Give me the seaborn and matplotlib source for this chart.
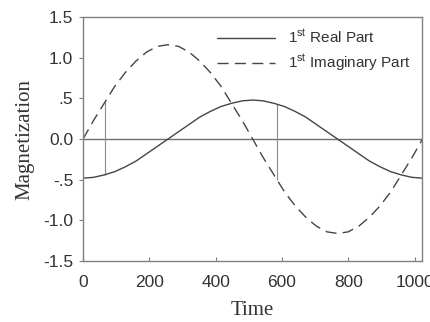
import numpy as np
import pandas as pd
import matplotlib
matplotlib.use("Agg")
import matplotlib.pyplot as plt
import seaborn as sns

time = [0, 32, 64, 96, 128, 160, 192, 224, 256, 288, 320, 352, 384, 416, 448, 480,
        512, 544, 576, 608, 640, 672, 704, 736, 768, 800, 832, 864, 896, 928, 960, 992, 1024]
real_part = [-0.48, -0.47, -0.44, -0.40, -0.34, -0.27, -0.18, -0.09, 0.00, 0.09, 0.18, 0.27,
             0.34, 0.40, 0.44, 0.47, 0.48, 0.47, 0.44, 0.40, 0.34, 0.27, 0.18, 0.09, 0.00,
             -0.09, -0.18, -0.27, -0.34, -0.40, -0.44, -0.47, -0.48]
imag_part = [0.00, 0.23, 0.44, 0.65, 0.82, 0.96, 1.07, 1.14, 1.16, 1.14, 1.07, 0.96, 0.82,
             0.65, 0.44, 0.23, 0.00, -0.23, -0.44, -0.65, -0.82, -0.96, -1.07, -1.14, -1.16,
             -1.14, -1.07, -0.96, -0.82, -0.65, -0.44, -0.23, 0.00]
marker_times = [66, 586]
marker_low = [-0.44, -0.50]
marker_high = [0.46, 0.43]

xticks = [0, 200, 400, 600, 800, 1000]
yticks = [-1.5, -1.0, -0.5, 0.0, 0.5, 1.0, 1.5]
ytick_labels = ["-1.5", "-1.0", "-.5", "0.0", ".5", "1.0", "1.5"]

sns.set_style("white")
plt.rcParams["font.family"] = ["Liberation Sans", "DejaVu Sans"]

fig = plt.figure(figsize=(4.3, 3.22), dpi=100)
ax = fig.add_axes([0.193, 0.189, 0.788, 0.758])

line_color = "#454545"
df = pd.DataFrame({"Time": time, "Real": real_part, "Imag": imag_part})

ax.axhline(0, color="#6e6e6e", lw=1.0, zorder=1)
ax.vlines(marker_times, marker_low, marker_high, color="#8a8a8a", lw=0.8, zorder=1)

sns.lineplot(data=df, x="Time", y="Real", ax=ax, color=line_color, lw=1.0,
             label="1$^{\\mathregular{st}}$ Real Part")
sns.lineplot(data=df, x="Time", y="Imag", ax=ax, color=line_color, lw=1.0,
             label="1$^{\\mathregular{st}}$ Imaginary Part")
ax.lines[-1].set_dashes((8, 4.5))

ax.set_xlim(0, 1022)
ax.set_ylim(-1.5, 1.5)
ax.set_xticks(xticks)
ax.set_xticklabels([str(t) for t in xticks])
ax.set_yticks(yticks)
ax.set_yticklabels(ytick_labels)
ax.tick_params(axis="both", labelsize=12.5, colors="#808080", labelcolor="#333333",
               length=3, width=0.8, bottom=True, left=True)
ax.tick_params(axis="x", direction="in", pad=10)
ax.tick_params(axis="y", direction="out", pad=4)
for s in ax.spines.values():
    s.set_color("#808080")
    s.set_linewidth(1.0)

ax.set_xlabel("Time", family="Liberation Serif", fontsize=15, color="#333333", labelpad=8)
ax.set_ylabel("Magnetization", family="Liberation Serif", fontsize=15, color="#333333", labelpad=6)

leg = ax.legend(loc="upper right", frameon=False, fontsize=11, handlelength=3.8,
                handletextpad=0.9, borderaxespad=0.3, labelspacing=0.45)
leg.get_lines()[1].set_dashes((8, 4.5))
for t in leg.get_texts():
    t.set_color("#333333")

fig.savefig("out.png", dpi=100)
